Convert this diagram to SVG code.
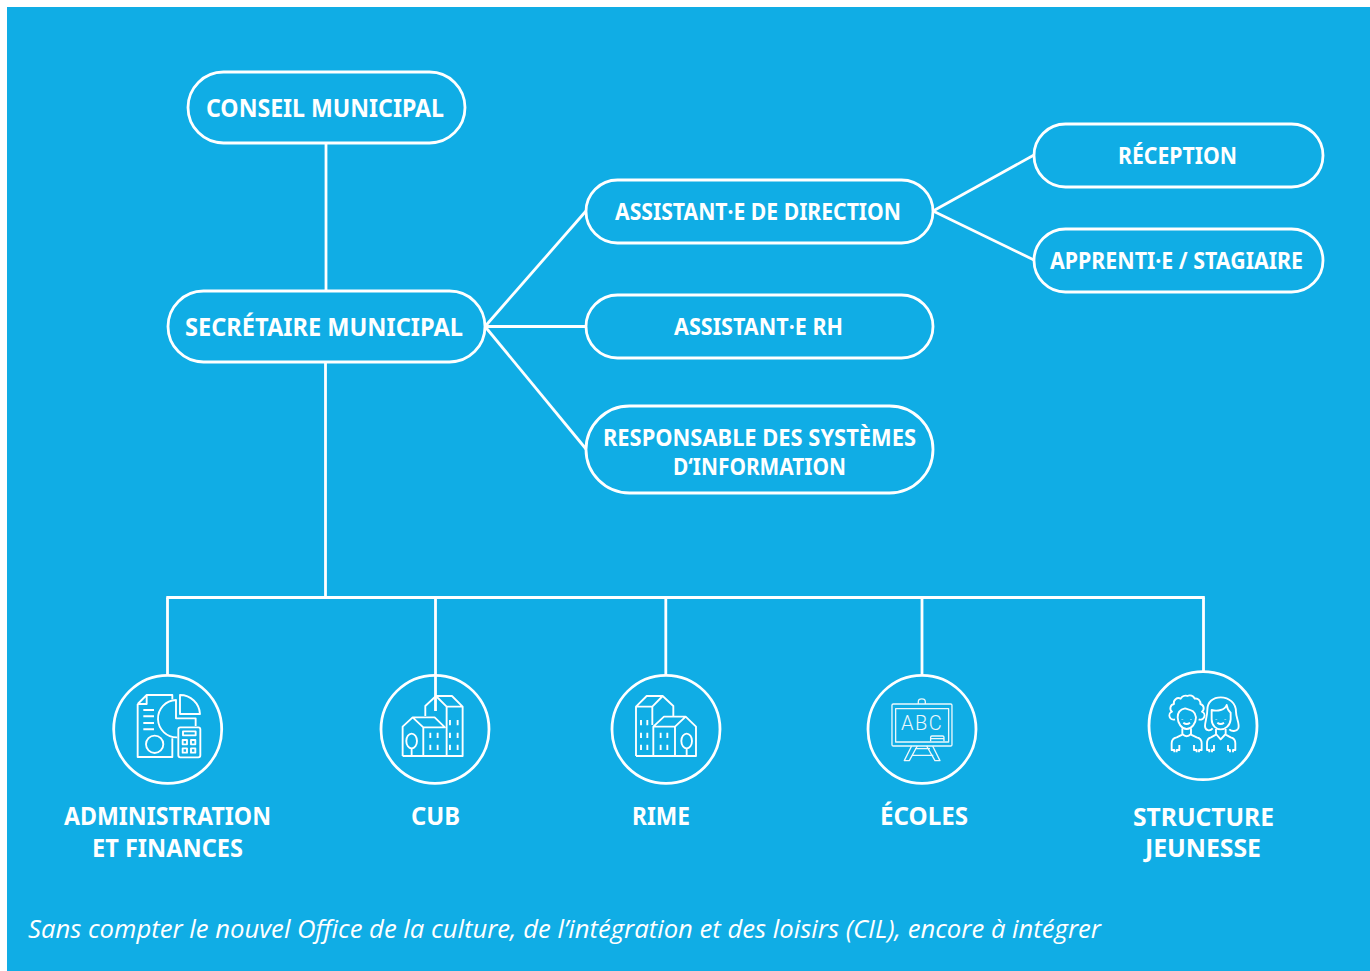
<svg xmlns="http://www.w3.org/2000/svg" width="1370" height="971" viewBox="0 0 1370 971">
<style>
.pill{fill:none;stroke:#fff;stroke-width:2.8}
.ring{fill:none;stroke:#fff;stroke-width:2.8}
.conn{fill:none;stroke:#fff;stroke-width:2.8}
.ic{fill:none;stroke:#fff;stroke-width:5.600;stroke-linejoin:round}
.ict{fill:none;stroke:#fff;stroke-width:4;stroke-linejoin:round;opacity:.92}
text{fill:#fff;font-family:"Noto Sans","Open Sans","Liberation Sans",sans-serif;font-weight:700;text-anchor:middle}
.l{font-size:25px}
.m{font-size:22.5px}
.foot{font-family:"Open Sans","Noto Sans",sans-serif;font-style:italic;font-weight:400;font-size:26px;text-anchor:start}
.abc{font-family:"Roboto","Noto Sans",sans-serif;font-weight:300;font-size:60px;text-anchor:start}
</style>
<rect x="0" y="0" width="1370" height="971" fill="#fff"/>
<rect x="7" y="7" width="1363" height="964" fill="#10ade5"/>
<g id="connectors" class="conn">
<path d="M326 143V291"/>
<path d="M325.500 362V597.500"/>
<path d="M166.300 597.500H1204.800"/>
<path d="M167.500 597.500V675"/>
<path d="M435.500 597.500V711"/>
<path d="M665.800 597.500V675"/>
<path d="M922 597.500V675"/>
<path d="M1203.500 597.500V671"/>
<path d="M485 326.500L586 211"/>
<path d="M485 326.500H586"/>
<path d="M485 326.500L586 449"/>
<path d="M933 211L1034 155"/>
<path d="M933 211L1034 260"/>
</g>
<g id="conseil"><rect class="pill" x="188" y="72" width="277" height="71" rx="35.500"/><text class="l" x="325" y="117" textLength="238" lengthAdjust="spacingAndGlyphs">CONSEIL MUNICIPAL</text></g>
<g id="secretaire"><rect class="pill" x="168" y="291" width="317" height="71" rx="35.500"/><text class="l" x="324" y="336" textLength="278" lengthAdjust="spacingAndGlyphs">SECRÉTAIRE MUNICIPAL</text></g>
<g id="assistant-direction"><rect class="pill" x="586" y="180" width="347" height="63" rx="31.500"/><text class="m" x="758" y="220" textLength="286" lengthAdjust="spacingAndGlyphs">ASSISTANT·E DE DIRECTION</text></g>
<g id="assistant-rh"><rect class="pill" x="586" y="295" width="347" height="63" rx="31.500"/><text class="m" x="758.500" y="335" textLength="169" lengthAdjust="spacingAndGlyphs">ASSISTANT·E RH</text></g>
<g id="responsable"><rect class="pill" x="586" y="406" width="347" height="87" rx="43.500"/><text class="m" x="759.500" y="446" textLength="313" lengthAdjust="spacingAndGlyphs">RESPONSABLE DES SYSTÈMES</text><text class="m" x="759.500" y="475" textLength="173" lengthAdjust="spacingAndGlyphs">D‘INFORMATION</text></g>
<g id="reception"><rect class="pill" x="1034" y="124" width="289" height="63" rx="31.500"/><text class="m" x="1177.500" y="164" textLength="119" lengthAdjust="spacingAndGlyphs">RÉCEPTION</text></g>
<g id="apprenti"><rect class="pill" x="1034" y="229" width="289" height="63" rx="31.500"/><text class="m" x="1176.500" y="269" textLength="253" lengthAdjust="spacingAndGlyphs">APPRENTI·E / STAGIAIRE</text></g>
<g id="admin">
<circle class="ring" cx="167.700" cy="729.300" r="54"/>
<g transform="translate(90 660) scale(.3333)" class="ic">
<path d="M143 132L170 105H247V118M143 132V291H247V235M170 105V132H143"/>
<path d="M258 118V175H317V198M258 120A56 56 0 0 0 262 232"/>
<path d="M270 105A60 60 0 0 1 330 162H270Z"/>
<path d="M160 150H192M160 169H192M160 189H192M160 208H192" stroke-width="6"/>
<circle cx="194" cy="253" r="26"/>
<rect x="265" y="202" width="66" height="90" rx="6"/>
<rect x="279" y="214" width="38" height="12"/>
<rect x="278" y="240" width="13" height="13"/><rect x="303" y="240" width="13" height="13"/><rect x="278" y="265" width="13" height="13"/><rect x="303" y="265" width="13" height="13"/>
</g>
<text class="l" x="167.500" y="825" textLength="207" lengthAdjust="spacingAndGlyphs">ADMINISTRATION</text>
<text class="l" x="167.500" y="857" textLength="151" lengthAdjust="spacingAndGlyphs">ET FINANCES</text>
</g>
<g id="cub">
<circle class="ring" cx="435" cy="729.300" r="54"/>
<g transform="translate(90 660) scale(.3333)" class="ic">
<path d="M938 288H1118V140L1086 108H1038L1006 138V168M1038 108L1070 140H1118M1070 140V288"/>
<path d="M938 288V200L968 172H1034L1065 202H1000L968 172M1000 202V288"/>
<ellipse cx="965" cy="243" rx="16" ry="22"/><path d="M965 265V288"/>
<path d="M1021 218V234M1043 218V234M1021 254V270M1043 254V270M1080 180V196M1103 180V196M1080 218V234M1103 218V234M1080 254V270M1103 254V270"/>
</g>
<text class="l" x="435.500" y="825" textLength="49" lengthAdjust="spacingAndGlyphs">CUB</text>
</g>
<g id="rime">
<circle class="ring" cx="666" cy="729.300" r="54"/>
<g transform="translate(590 660) scale(.3333)" class="ic">
<path d="M138 288H318V200L287 170H222L190 200H255L287 170M255 200V288M190 200V288"/>
<path d="M138 288V140L170 108H218L187 140H138M187 140V195M218 108L250 138V170"/>
<ellipse cx="290" cy="243" rx="16" ry="22"/><path d="M290 265V288"/>
<path d="M153 180V196M172 180V196M153 218V234M172 218V234M153 254V270M172 254V270M212 218V234M232 218V234M212 254V270M232 254V270"/>
</g>
<text class="l" x="661" y="825" textLength="58" lengthAdjust="spacingAndGlyphs">RIME</text>
</g>
<g id="ecoles">
<circle class="ring" cx="922" cy="729.300" r="54"/>
<g transform="translate(590 660) scale(.3333)" class="ict">
<rect x="906" y="132" width="180" height="126" rx="4"/>
<rect x="917" y="146" width="159" height="100"/>
<path d="M985 132V125A10 8 0 0 1 1006 125V132"/>
<path d="M1022 244V232Q1022 228 1026 228H1058Q1062 228 1062 232V244M1022 236H1062"/>
<path d="M965 258L943 302H958L982 258M1028 258L1050 302H1035L1010 258M975 266H1020M966 286H1030"/>
<text class="abc" x="933" y="209" textLength="122" stroke="none" style="fill:#fff">ABC</text>
</g>
<text class="l" x="924" y="825" textLength="88" lengthAdjust="spacingAndGlyphs">ÉCOLES</text>
</g>
<g id="jeunesse">
<circle class="ring" cx="1203" cy="725.700" r="54"/>
<g transform="translate(1130 660) scale(.3333)" class="ic">
<path d="M135 178A12 12 0 0 1 126 155A13 13 0 0 1 132 132A14 14 0 0 1 152 116A16 16 0 0 1 172 108A16 16 0 0 1 194 116A14 14 0 0 1 211 132A13 13 0 0 1 216 155A12 12 0 0 1 206 178"/>
<path d="M143 172C143 155 150 148 165 145C180 150 195 150 198 172C198 190 185 207 170 207C155 207 143 190 143 172Z"/>
<path d="M157 178V179M183 178V179M160 188Q170 196 180 188"/>
<path d="M157 205V222Q170 235 183 222V205M157 224L140 232Q125 235 125 250V270H133V277M140 277V270H148V255M183 224L200 232Q215 235 215 250V270H207V277M200 277V270H192V255"/>
<path d="M232 150C232 125 250 112 272 112C298 112 318 130 318 155C318 175 330 190 325 205C320 215 305 215 298 208M248 205C240 215 225 212 225 198C225 185 232 170 232 150"/>
<path d="M245 150C262 155 285 150 290 135C292 150 298 155 302 158V178C300 198 285 208 272 208C260 208 245 198 245 178Z"/>
<path d="M259 178V179M286 178V179M262 188Q272 196 282 188"/>
<path d="M258 207V222L272 238L287 222V207M258 224L243 232Q231 235 231 250V270H238V277M246 277V270H252V255M287 224L302 232Q316 235 316 250V270H309V277M300 277V270H294V255"/>
</g>
<text class="l" x="1203.500" y="826" textLength="141" lengthAdjust="spacingAndGlyphs">STRUCTURE</text>
<text class="l" x="1203" y="857" textLength="116" lengthAdjust="spacingAndGlyphs">JEUNESSE</text>
</g>
<text class="foot" x="28" y="938" textLength="1073" lengthAdjust="spacingAndGlyphs">Sans compter le nouvel Office de la culture, de l’intégration et des loisirs (CIL), encore à intégrer</text>
</svg>
